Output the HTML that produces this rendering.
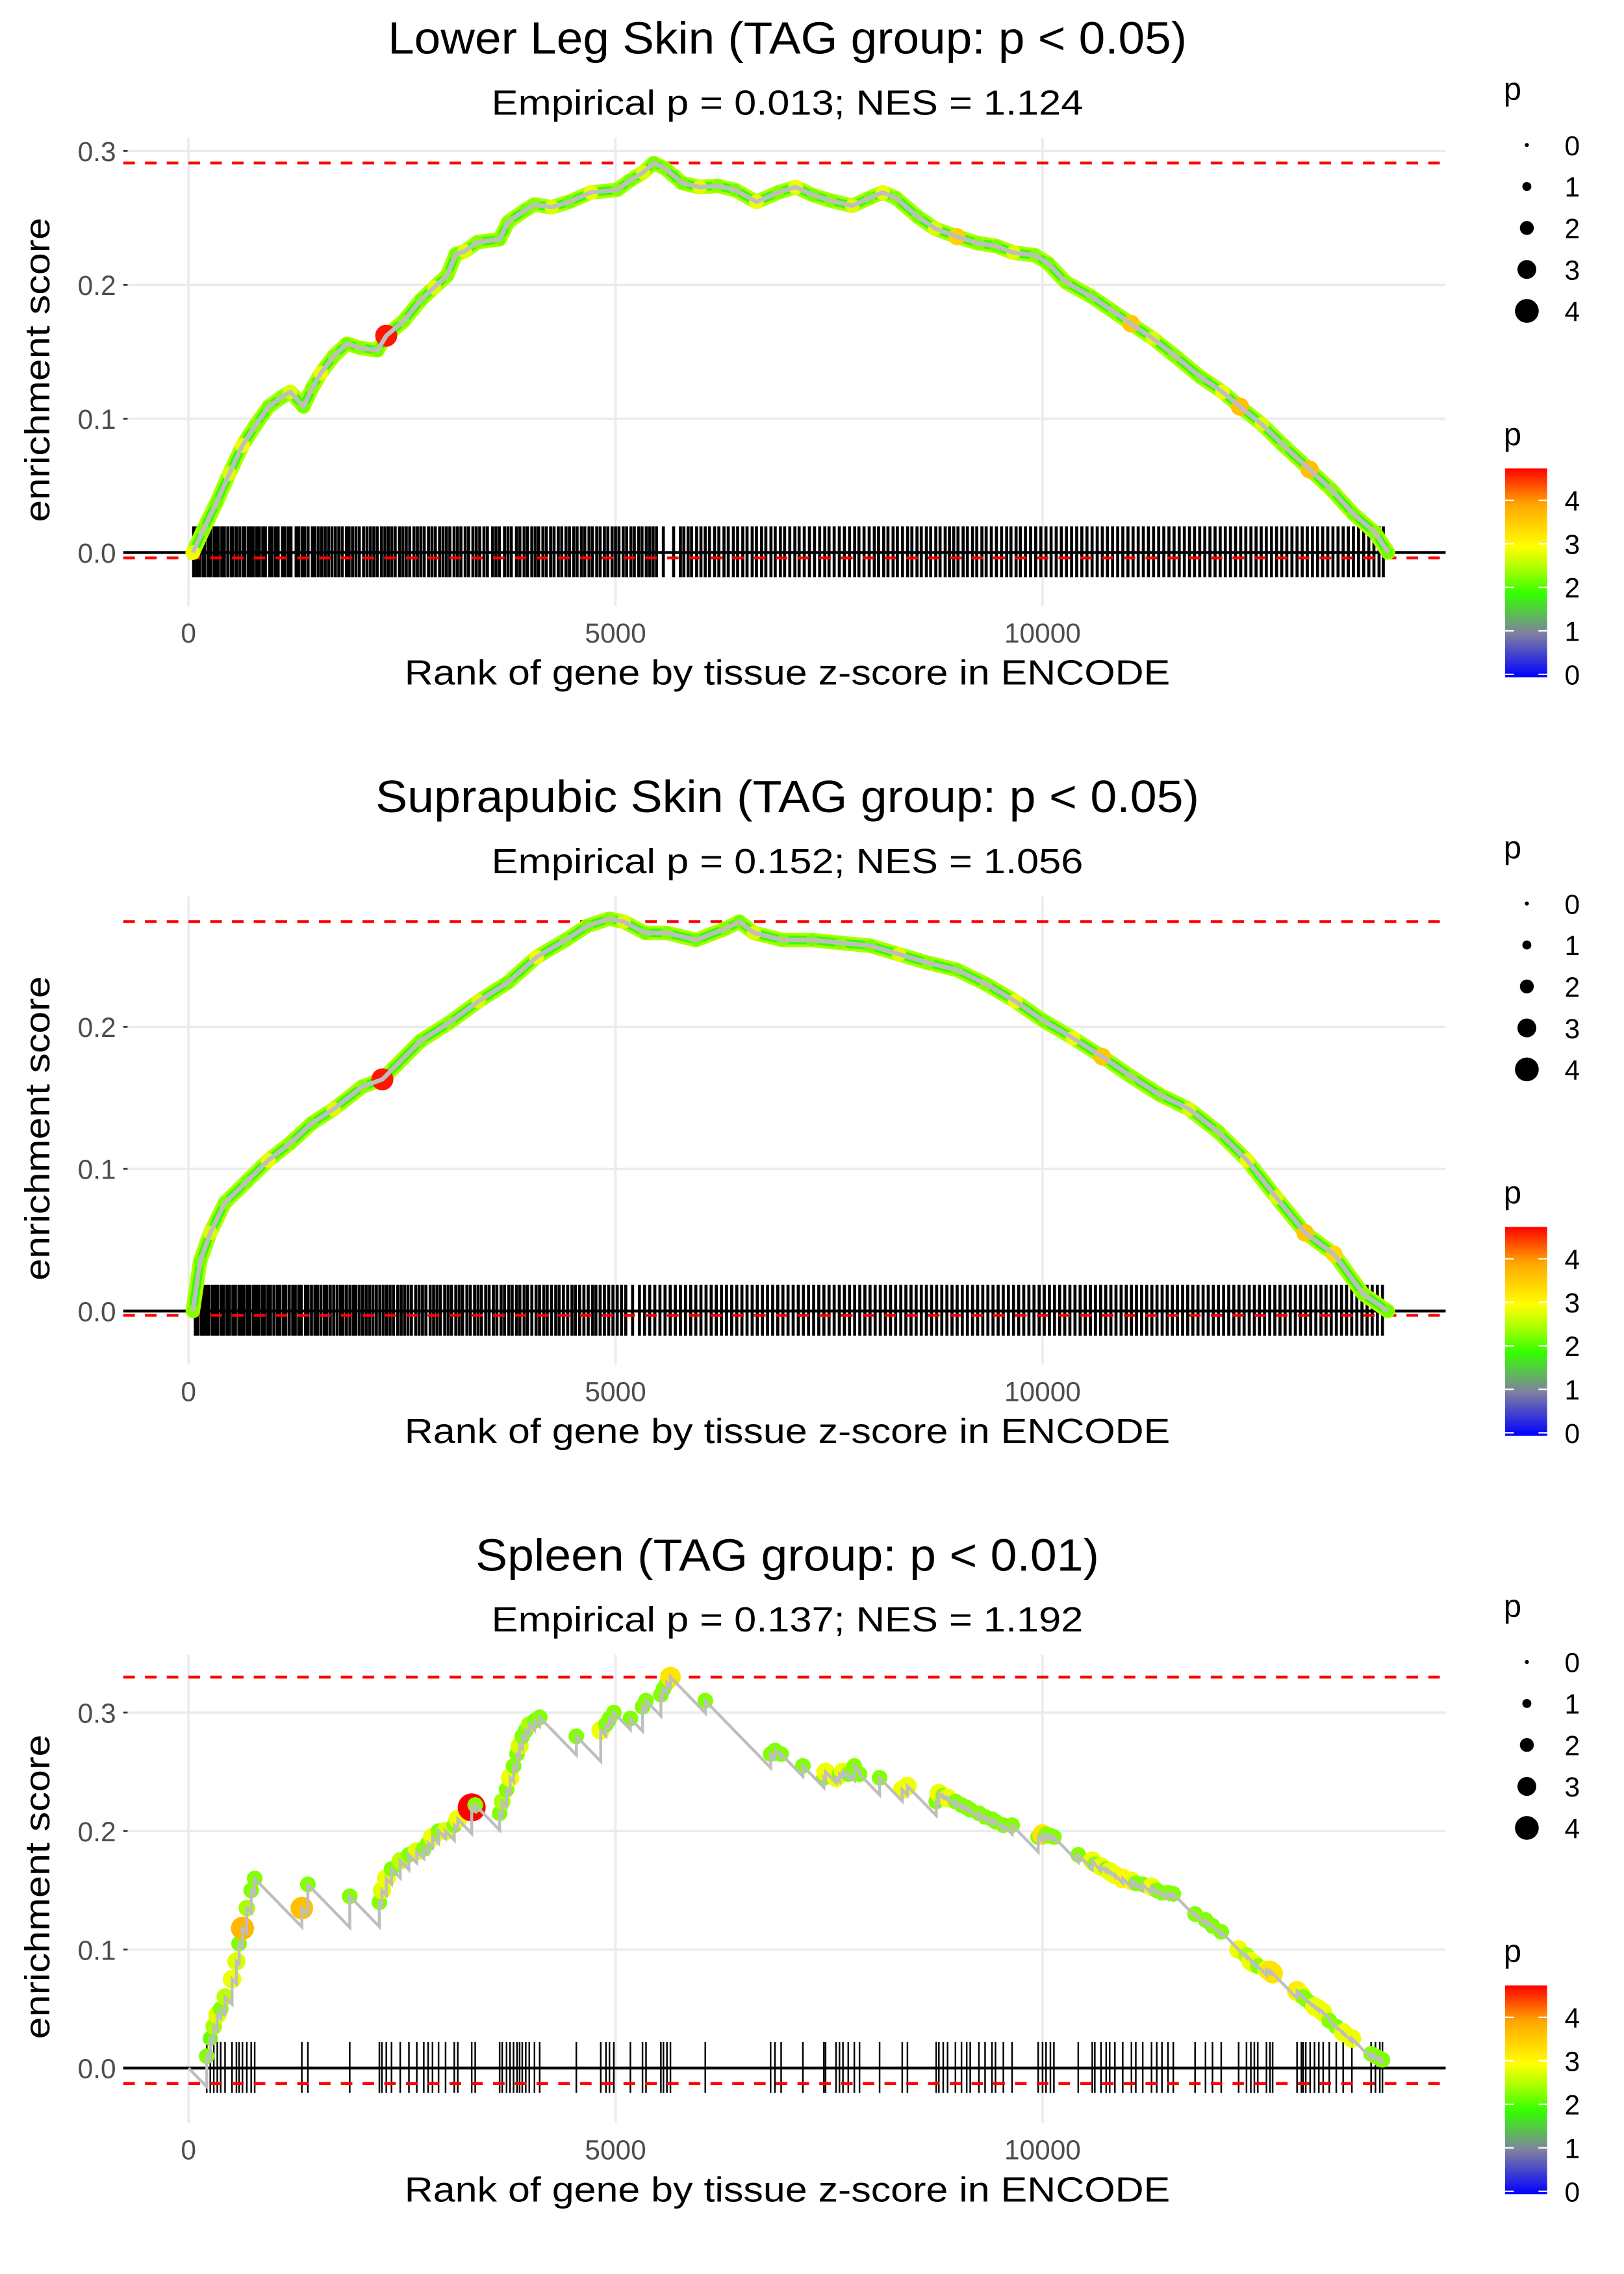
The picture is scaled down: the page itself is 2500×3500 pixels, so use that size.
<!DOCTYPE html>
<html><head><meta charset="utf-8">
<style>
html,body{margin:0;padding:0;background:#fff;}
svg{display:block;font-family:"Liberation Sans",sans-serif;}
</style></head>
<body>
<svg id="chart" width="2500" height="3500" viewBox="0 0 1120 1568" preserveAspectRatio="none" xmlns="http://www.w3.org/2000/svg">
<defs>
<linearGradient id="pgrad" x1="0" y1="1" x2="0" y2="0">
<stop offset="0" stop-color="#0000ff"/>
<stop offset="0.21" stop-color="#8080a0"/>
<stop offset="0.40" stop-color="#33ff00"/>
<stop offset="0.52" stop-color="#aaff00"/>
<stop offset="0.625" stop-color="#ffff00"/>
<stop offset="0.83" stop-color="#ffa500"/>
<stop offset="1" stop-color="#ff0000"/>
</linearGradient>
</defs>
</svg>
<script>
// ---------- data ----------
const titles = ["Lower Leg Skin (TAG group: p < 0.05)","Suprapubic Skin (TAG group: p < 0.05)","Spleen (TAG group: p < 0.01)"];
const subtitles = ["Empirical p = 0.013; NES = 1.124","Empirical p = 0.152; NES = 1.056","Empirical p = 0.137; NES = 1.192"];
const xTicks = [0,5000,10000];
const yTicks1 = [0,0.1,0.2,0.3];
const yTicks2 = [0,0.1,0.2];
const yTicks3 = [0,0.1,0.2,0.3];
const esMax = [0.291,0.274,0.330];
const esMin = [-0.004,-0.003,-0.013];
const legendSizes = [0,1,2,3,4];
const colorTicks = [0,1,2,3,4];

const p1Rank = [51,173,326,479,632,785,938,1091,1193,1346,1448,1550,1703,1856,2009,2213,2315,2519,2723,2876,3029,3131,3233,3386,3641,3743,3947,4049,4253,4457,4712,5018,5171,5324,5447,5579,5783,5987,6191,6395,6650,6905,7109,7313,7517,7772,7976,8129,8282,8537,8741,8996,9251,9455,9659,9914,10067,10271,10577,10832,11036,11291,11546,11852,12107,12311,12566,12821,13127,13382,13637,13892,14045];
const p1Es = [0,.017,.037,.059,.080,.095,.109,.116,.120,.109,.123,.134,.147,.156,.153,.151,.162,.173,.189,.198,.207,.223,.225,.232,.234,.247,.256,.260,.258,.262,.269,.271,.278,.284,.291,.287,.276,.273,.274,.271,.262,.269,.273,.267,.263,.259,.265,.269,.265,.251,.242,.236,.231,.229,.224,.222,.216,.202,.191,.180,.171,.160,.147,.131,.120,.109,.096,.080,.062,.047,.029,.015,0];
const p1P = [2.9,2.3,2.2,2.8,2.9,2.3,2.2,2.3,2.8,2.2,2.3,2.9,2.3,2.2,2.3,2.2,4.7,2.3,2.2,2.8,2.3,2.2,2.8,2.3,2.2,2.3,2.2,2.3,2.8,2.2,2.9,2.3,2.2,2.8,2.2,2.3,2.2,2.8,2.3,2.2,2.9,2.3,2.9,2.2,2.3,2.8,2.2,2.9,2.3,2.2,2.8,3.5,2.3,2.2,2.8,2.3,2.2,2.3,2.2,2.3,3.6,2.8,2.3,2.2,2.9,3.7,2.8,2.3,3.7,2.3,2.2,2.3,2.2];
const p1Rug = [60,95,130,170,190,230,260,300,330,350,390,420,460,500,520,560,600,640,660,700,730,760,800,830,870,900,950,980,1020,1050,1100,1130,1170,1200,1260,1290,1330,1360,1400,1450,1480,1520,1560,1600,1640,1680,1720,1760,1800,1850,1880,1920,1960,2000,2050,2090,2130,2170,2210,2260,2300,2340,2380,2420,2470,2510,2550,2590,2640,2680,2720,2760,2810,2850,2890,2940,2980,3020,3060,3110,3150,3190,3240,3280,3330,3370,3410,3460,3500,3560,3600,3640,3700,3740,3780,3840,3880,3930,3970,4020,4060,4100,4150,4190,4240,4280,4330,4370,4420,4460,4510,4550,4600,4640,4690,4730,4780,4820,4870,4910,4960,5000,5040,5090,5130,5180,5220,5270,5310,5360,5400,5440,5480,5560,5680,5760,5800,5850,5890,5950,6000,6050,6100,6160,6210,6270,6320,6380,6430,6490,6540,6600,6650,6710,6760,6820,6870,6930,6980,7040,7100,7150,7210,7270,7330,7390,7450,7500,7560,7620,7680,7740,7800,7850,7910,7970,8030,8080,8140,8190,8250,8300,8360,8420,8470,8530,8580,8640,8690,8750,8800,8860,8910,8960,9010,9070,9120,9180,9230,9290,9340,9400,9460,9520,9580,9630,9690,9740,9800,9860,9920,9980,10040,10100,10160,10220,10280,10340,10400,10460,10520,10580,10640,10700,10760,10820,10880,10940,11000,11060,11120,11180,11240,11300,11360,11420,11480,11540,11600,11660,11720,11780,11840,11900,11960,12020,12080,12140,12200,12260,12320,12380,12440,12500,12560,12620,12680,12740,12800,12860,12920,12980,13040,13100,13160,13220,13280,13340,13400,13460,13520,13580,13640,13700,13760,13820,13880,13940,13990];

const p2Rank = [51,136,255,424,679,934,1189,1443,1698,2038,2270,2717,3056,3396,3736,4075,4415,4670,4924,5094,5349,5603,5943,6283,6452,6622,6962,7301,7641,7981,8320,8660,9000,9339,9679,10018,10358,10698,11037,11377,11716,12056,12396,12735,13075,13414,13754,14043];
const p2Es = [0,.035,.055,.076,.091,.106,.118,.132,.142,.158,.163,.190,.203,.218,.231,.249,.261,.271,.276,.274,.266,.266,.261,.269,.274,.266,.261,.261,.259,.257,.251,.245,.240,.230,.218,.204,.192,.179,.165,.152,.142,.126,.106,.080,.055,.040,.012,0];
const p2P = [2.3,2.2,2.8,2.3,2.2,2.9,2.3,2.2,2.8,2.3,4.7,2.2,2.3,2.8,2.2,2.9,2.3,2.2,2.3,2.8,2.2,2.3,2.2,2.3,2.2,2.8,2.3,2.2,2.3,2.2,2.8,2.3,2.2,2.3,2.9,2.2,2.9,3.6,2.3,2.2,2.8,2.3,2.9,2.8,3.6,3.4,2.3,2.2];
const p2Rug = [80,110,150,175,210,240,280,310,340,380,410,450,480,520,550,590,620,650,690,720,760,790,820,860,890,930,960,1000,1040,1070,1110,1140,1180,1220,1250,1290,1320,1370,1400,1440,1480,1510,1550,1590,1620,1660,1700,1740,1780,1810,1850,1890,1930,1960,2000,2040,2080,2120,2160,2200,2240,2280,2320,2360,2400,2450,2490,2530,2570,2610,2660,2700,2740,2780,2830,2870,2910,2950,3000,3040,3080,3130,3170,3210,3260,3300,3350,3390,3430,3480,3520,3570,3610,3660,3700,3750,3790,3840,3880,3930,3970,4020,4070,4110,4160,4200,4250,4300,4340,4390,4440,4490,4530,4580,4630,4680,4730,4770,4820,4870,4920,4970,5020,5070,5120,5200,5280,5340,5400,5460,5520,5580,5640,5700,5760,5820,5880,5940,6000,6060,6120,6180,6240,6300,6360,6420,6480,6540,6600,6660,6720,6780,6840,6900,6960,7020,7080,7140,7200,7260,7320,7380,7440,7500,7560,7620,7680,7740,7800,7860,7920,7980,8040,8100,8160,8220,8280,8340,8400,8460,8520,8580,8640,8700,8760,8820,8880,8940,9000,9060,9120,9180,9240,9300,9360,9420,9480,9540,9600,9660,9720,9780,9840,9900,9960,10020,10080,10140,10200,10260,10320,10380,10440,10500,10560,10620,10680,10740,10800,10860,10920,10980,11040,11100,11160,11220,11280,11340,11400,11460,11520,11580,11640,11700,11760,11820,11880,11940,12000,12060,12120,12180,12240,12300,12360,12420,12480,12540,12600,12660,12720,12780,12840,12900,12960,13020,13080,13140,13200,13260,13320,13380,13440,13500,13560,13620,13680,13740,13800,13860,13920,13980];

const p3Rank = [214,255,296,337,377,428,510,561,592,632,683,734,775,
1327,1398,1888,
2235,2265,2316,2377,2479,2581,2673,2755,2806,2857,2928,3010,3112,3153,
3316,3357,3643,3673,3724,3765,3806,3847,3877,3908,3949,3990,4051,4112,
4541,4827,4888,4929,4980,5174,5316,5357,5531,5561,5602,5643,6051,
6816,6867,6939,7194,7439,7459,7582,7622,7663,7725,7796,7857,8092,8357,8418,8755,8786,8837,8888,8980,9051,9112,9153,9255,9327,9408,9449,9541,9643,
9949,10000,10041,10092,10133,
10418,10582,10612,10684,10745,10786,10847,10939,11041,11092,11173,11276,11337,11398,11469,11531,
11786,11908,11990,12092,12296,12388,12439,12480,12520,12622,12663,12694,
12980,13031,13051,13082,13133,13184,13235,13286,13357,13439,13520,13622,13847,13898,13949,13980];
const p3Es = [.01,.025,.035,.045,.05,.06,.075,.09,.105,.118,.135,.15,.16,
.135,.155,.145,
.14,.15,.16,.168,.175,.18,.183,.185,.19,.195,.2,.2,.205,.21,
.22,.222,.215,.225,.235,.245,.255,.265,.272,.28,.285,.29,.293,.296,
.28,.285,.29,.295,.3,.295,.305,.31,.315,.32,.325,.33,.31,
.265,.268,.265,.255,.245,.25,.245,.248,.25,.248,.255,.248,.245,.235,.238,.225,.232,.23,.228,.225,.222,.22,.218,.215,.212,.21,.208,.205,.205,
.195,.197,.197,.196,.195,
.18,.175,.172,.17,.168,.166,.163,.16,.158,.156,.155,.153,.15,.148,.148,.147,
.13,.125,.12,.115,.1,.095,.09,.088,.086,.083,.082,.08,
.065,.062,.06,.058,.055,.052,.05,.047,.04,.035,.03,.025,.012,.01,.008,.007];
const p3P = [2.3,2.2,2.5,2.8,2.3,2.6,2.9,2.8,2.3,3.8,2.5,2.3,2.3,
3.7,2.3,2.3,
2.3,2.8,2.9,2.3,2.6,2.3,2.8,2.3,2.3,2.9,2.3,2.8,2.3,2.9,
4.8,2.3,2.3,2.5,2.3,2.9,2.3,2.3,2.8,2.3,2.3,2.5,2.3,2.3,
2.3,2.9,2.3,2.3,2.3,2.3,2.3,2.3,2.3,2.3,2.3,3.3,2.3,
2.3,2.3,2.3,2.3,2.3,2.9,2.9,2.3,2.9,2.3,2.3,2.3,2.3,2.9,2.9,2.3,2.9,2.3,2.9,2.3,2.3,2.3,2.3,2.3,2.3,2.3,2.3,2.3,2.3,
2.3,3.3,2.3,2.3,2.3,
2.3,2.9,2.3,2.9,2.3,2.9,2.9,3.1,2.9,2.3,2.3,2.9,2.3,2.3,2.3,2.3,
2.3,2.3,2.3,2.3,2.9,2.5,2.9,2.9,2.3,2.9,3.3,3.3,
3.2,2.9,2.3,2.3,2.3,2.9,2.9,2.9,2.3,2.3,2.9,2.9,2.3,2.3,2.3,2.3];
const p3Slope = 0.000074;

// ---------- helpers ----------
const NS = "http://www.w3.org/2000/svg";
const svg = document.getElementById("chart");
function mk(tag, attrs, parent){ const e=document.createElementNS(NS,tag); for(const k in attrs) e.setAttribute(k,attrs[k]); (parent||svg).appendChild(e); return e; }
const X0=85, X1=997;
const xScale = r => 130 + r*0.0589;
const colStops = [[0,[0,0,255]],[1,[128,128,160]],[1.9,[51,255,0]],[2.5,[170,255,0]],[3,[255,255,0]],[4,[255,165,0]],[4.8,[255,0,0]]];
function pColor(p){ for(let i=1;i<colStops.length;i++){ if(p<=colStops[i][0]){ const a=colStops[i-1],b=colStops[i]; const t=(p-a[0])/(b[0]-a[0]); const c=a[1].map((v,j)=>Math.round(v+(b[1][j]-v)*t)); return `rgb(${c[0]},${c[1]},${c[2]})`; } } return "rgb(255,0,0)"; }
const pRadius = p => 1.5 + 1.7*p;

const panels = [
 {off:0, y0:381, k:923, yt:yTicks1, rank:p1Rank, es:p1Es, p:p1P, rug:p1Rug, rugW:2.1, dense:true},
 {off:523, y0:381, k:980, yt:yTicks2, rank:p2Rank, es:p2Es, p:p2P, rug:p2Rug, rugW:2.1, dense:true},
 {off:1046, y0:380, k:817, yt:yTicks3, rank:p3Rank, es:p3Es, p:p3P, rug:p3Rank, rugW:1.1, dense:false}
];

panels.forEach((P,i)=>{
  const g = mk("g",{});
  
  
  const o = P.off;
  const yS = v => o + P.y0 - v*P.k;
  const tw = [551,568,430][i];
  const t = mk("text",{x:543,y:o+37,"text-anchor":"middle","font-size":31,fill:"#000",textLength:tw,lengthAdjust:"spacingAndGlyphs"},g);
  t.textContent = titles[i];
  
  
  const st = mk("text",{x:543,y:o+79,"text-anchor":"middle","font-size":24,fill:"#000",textLength:408,lengthAdjust:"spacingAndGlyphs"},g);
  st.textContent = subtitles[i];
  
  
  const top = o+95, bot = o+418;
  xTicks.forEach(v=>{ mk("line",{x1:xScale(v),x2:xScale(v),y1:top,y2:bot,stroke:"#ebebeb","stroke-width":1.6},g); });
  P.yt.forEach(v=>{
    mk("line",{x1:X0,x2:X1,y1:yS(v),y2:yS(v),stroke:"#ebebeb","stroke-width":1.6},g);
    mk("line",{x1:X0,x2:X0+3,y1:yS(v),y2:yS(v),stroke:"#333","stroke-width":1.2},g);
    const tl = mk("text",{x:80,y:yS(v)+7,"text-anchor":"end","font-size":19,fill:"#4d4d4d"},g);
    tl.textContent = v.toFixed(1);
    
    
  });
  xTicks.forEach(v=>{
    const tl = mk("text",{x:xScale(v),y:o+443,"text-anchor":"middle","font-size":19,fill:"#4d4d4d"},g);
    tl.textContent = String(v);
    
    
  });
  const yt = mk("text",{x:0,y:0,"text-anchor":"middle","font-size":24,fill:"#000",textLength:210,lengthAdjust:"spacingAndGlyphs",transform:`translate(34,${o+255}) rotate(-90)`},g);
  yt.textContent = "enrichment score";
  
  
  const xt = mk("text",{x:543,y:o+472,"text-anchor":"middle","font-size":24,fill:"#000",textLength:528,lengthAdjust:"spacingAndGlyphs"},g);
  xt.textContent = "Rank of gene by tissue z-score in ENCODE";
  
  
  const rugTop = o+P.y0-18, rugBot = o+P.y0+17;
  P.rug.forEach(r=>{
    const l = mk("line",{x1:xScale(r),x2:xScale(r),y1:rugTop,y2:rugBot,stroke:"#000","stroke-width":P.rugW},g);
    
    
  });
  const zl = mk("line",{x1:X0,x2:X1,y1:yS(0),y2:yS(0),stroke:"#000","stroke-width":2},g);
  
  
  [esMax[i],esMin[i]].forEach((v,j)=>{
    const d = mk("line",{x1:X0,x2:X1,y1:yS(v),y2:yS(v),stroke:"#ff0000","stroke-width":2,"stroke-dasharray":"8,7"},g);
    
    
  });
  if(P.dense){
    const pts = P.rank.map((r,k)=>`${xScale(r).toFixed(1)},${yS(P.es[k]).toFixed(1)}`).join(" ");
    mk("polyline",{points:pts,fill:"none",stroke:"#aaff00","stroke-width":10,"stroke-linejoin":"round","stroke-linecap":"round"},g);
    mk("polyline",{points:pts,fill:"none",stroke:"#33ff00","stroke-width":6,"stroke-linejoin":"round"},g);
    P.rank.forEach((r,k)=>{
      const c = mk("circle",{cx:xScale(r),cy:yS(P.es[k]),r:pRadius(P.p[k])*0.8,fill:pColor(P.p[k])},g);
      
      
    });
    const line = mk("polyline",{points:pts,fill:"none",stroke:"#bebebe","stroke-width":3,"stroke-linejoin":"round"},g);
    
    
  } else {
    let pts = [`${xScale(0)},${yS(0)}`];
    let prevR = 0, prevE = 0;
    const lows = [];
    P.rank.forEach((r,k)=>{
      const low = prevE - p3Slope*(r-prevR);
      lows.push(low);
      pts.push(`${xScale(r).toFixed(1)},${yS(low).toFixed(1)}`);
      pts.push(`${xScale(r).toFixed(1)},${yS(P.es[k]).toFixed(1)}`);
      prevR = r; prevE = P.es[k];
    });
    P.rank.forEach((r,k)=>{
      const c = mk("circle",{cx:xScale(r),cy:yS(P.es[k]),r:pRadius(P.p[k]),fill:pColor(P.p[k])},g);
      
      
      const b = mk("circle",{cx:xScale(r),cy:yS(lows[k]),r:1,fill:"#4040ff"},g);
      
      
    });
    const line = mk("polyline",{points:pts.join(" "),fill:"none",stroke:"#bebebe","stroke-width":2},g);
    
    
  }
  const lg = mk("g",{},g);
  
  
  const lp = mk("text",{x:1037,y:o+69,"font-size":22,fill:"#000"},lg);
  lp.textContent = "p";
  legendSizes.forEach((s,k)=>{
    const yy = o+100+k*28.6;
    mk("circle",{cx:1053,cy:yy,r:1.4+1.7*s,fill:"#000"},lg);
    const tx = mk("text",{x:1079,y:yy+7,"font-size":19,fill:"#000"},lg);
    tx.textContent = String(s);
    
    
  });
  const cg = mk("g",{},g);
  
  
  const cp = mk("text",{x:1037,y:o+307,"font-size":22,fill:"#000"},cg);
  cp.textContent = "p";
  const barTop=o+323, barBot=o+467, barMax=4.8;
  mk("rect",{x:1038,y:barTop,width:29,height:barBot-barTop,fill:"url(#pgrad)"},cg);
  colorTicks.forEach(v=>{
    const yy = barBot - (v/barMax)*(barBot-barTop) - 2;
    mk("line",{x1:1038,x2:1044,y1:yy,y2:yy,stroke:"#fff","stroke-width":1},cg);
    mk("line",{x1:1061,x2:1067,y1:yy,y2:yy,stroke:"#fff","stroke-width":1},cg);
    const tx = mk("text",{x:1079,y:yy+7,"font-size":19,fill:"#000"},cg);
    tx.textContent = String(v);
    
    
  });
});
</script>
</body></html>
